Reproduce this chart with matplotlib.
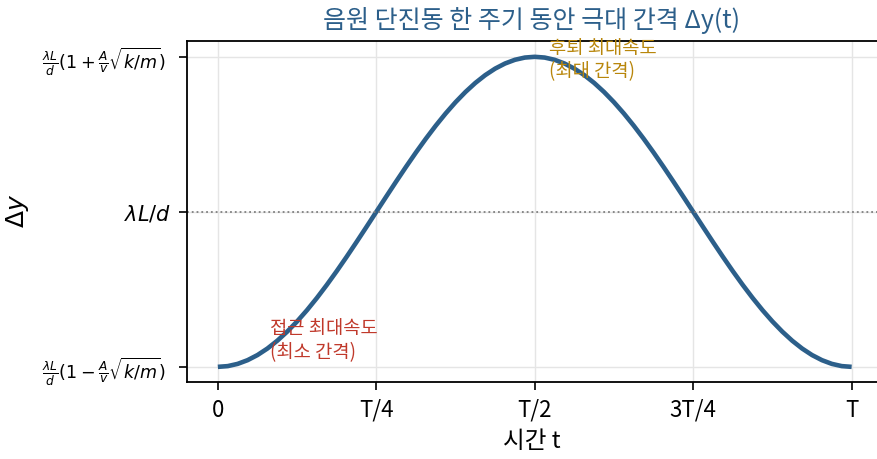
import matplotlib as mpl
mpl.use('agg')
import matplotlib.pyplot as plt

plt.rcParams['font.family'] = ['Noto Sans CJK KR', 'DejaVu Sans']
plt.rcParams['axes.unicode_minus'] = False

# time in units of T, normalized spacing (-1 = min, 0 = lambda L/d, 1 = max)
t_vals = [i / 64 for i in range(65)]
rise = [-1.0, -0.9952, -0.9808, -0.9569, -0.9239, -0.8819, -0.8315, -0.7730,
        -0.7071, -0.6344, -0.5556, -0.4714, -0.3827, -0.2903, -0.1951, -0.0980,
        0.0, 0.0980, 0.1951, 0.2903, 0.3827, 0.4714, 0.5556, 0.6344,
        0.7071, 0.7730, 0.8315, 0.8819, 0.9239, 0.9569, 0.9808, 0.9952, 1.0]
dy_vals = rise + rise[-2::-1]

xtick_pos = [0, 0.25, 0.5, 0.75, 1.0]
xtick_labels = ["0", "T/4", "T/2", "3T/4", "T"]
ytick_pos = [-1, 0, 1]
ytick_labels = [r"$\frac{\lambda L}{d}(1-\frac{A}{v}\sqrt{k/m})$",
                r"$\lambda L/d$",
                r"$\frac{\lambda L}{d}(1+\frac{A}{v}\sqrt{k/m})$"]

line_color = "#2c5f8a"

fig = plt.figure(figsize=(8.77, 4.59), dpi=100)
ax = fig.add_axes([0.213, 0.168, 0.787, 0.743])

ax.plot(t_vals, dy_vals, color=line_color, linewidth=3.3, solid_capstyle="butt")
ax.axhline(0, color="gray", linestyle=":", linewidth=1.3)

ax.set_xlim(-0.049, 1.04)
ax.set_ylim(-1.097, 1.103)
ax.set_xticks(xtick_pos)
ax.set_xticklabels(xtick_labels, fontsize=16)
ax.set_yticks(ytick_pos)
ylabs = ax.set_yticklabels(ytick_labels, fontsize=12.6)
ylabs[1].set_fontsize(15)
ax.grid(True, color="#e5e5e5", linewidth=1)
ax.set_axisbelow(True)
ax.spines["right"].set_visible(False)
ax.tick_params(length=6, width=1.2)
ax.tick_params(axis="x", pad=6)
ax.tick_params(axis="y", pad=9)
ax.yaxis.get_major_ticks()[1].set_pad(5)
for s in ["left", "top", "bottom"]:
    ax.spines[s].set_linewidth(1.3)

ax.set_xlabel("시간 t", fontsize=17, labelpad=6)
ax.set_ylabel(r"$\Delta y$", fontsize=18, labelpad=8)
ax.set_title("음원 단진동 한 주기 동안 극대 간격 Δy(t)", fontsize=18,
             color=line_color, pad=9)

ax.text(0.522, 0.98, "후퇴 최대속도\n(최대 간격)", color="#b8860b",
        fontsize=13.5, va="center", ha="left", linespacing=1.15)
ax.text(0.082, -0.83, "접근 최대속도\n(최소 간격)", color="#c0392b",
        fontsize=13.5, va="center", ha="left", linespacing=1.15)

fig.savefig("out.png", dpi=100)
